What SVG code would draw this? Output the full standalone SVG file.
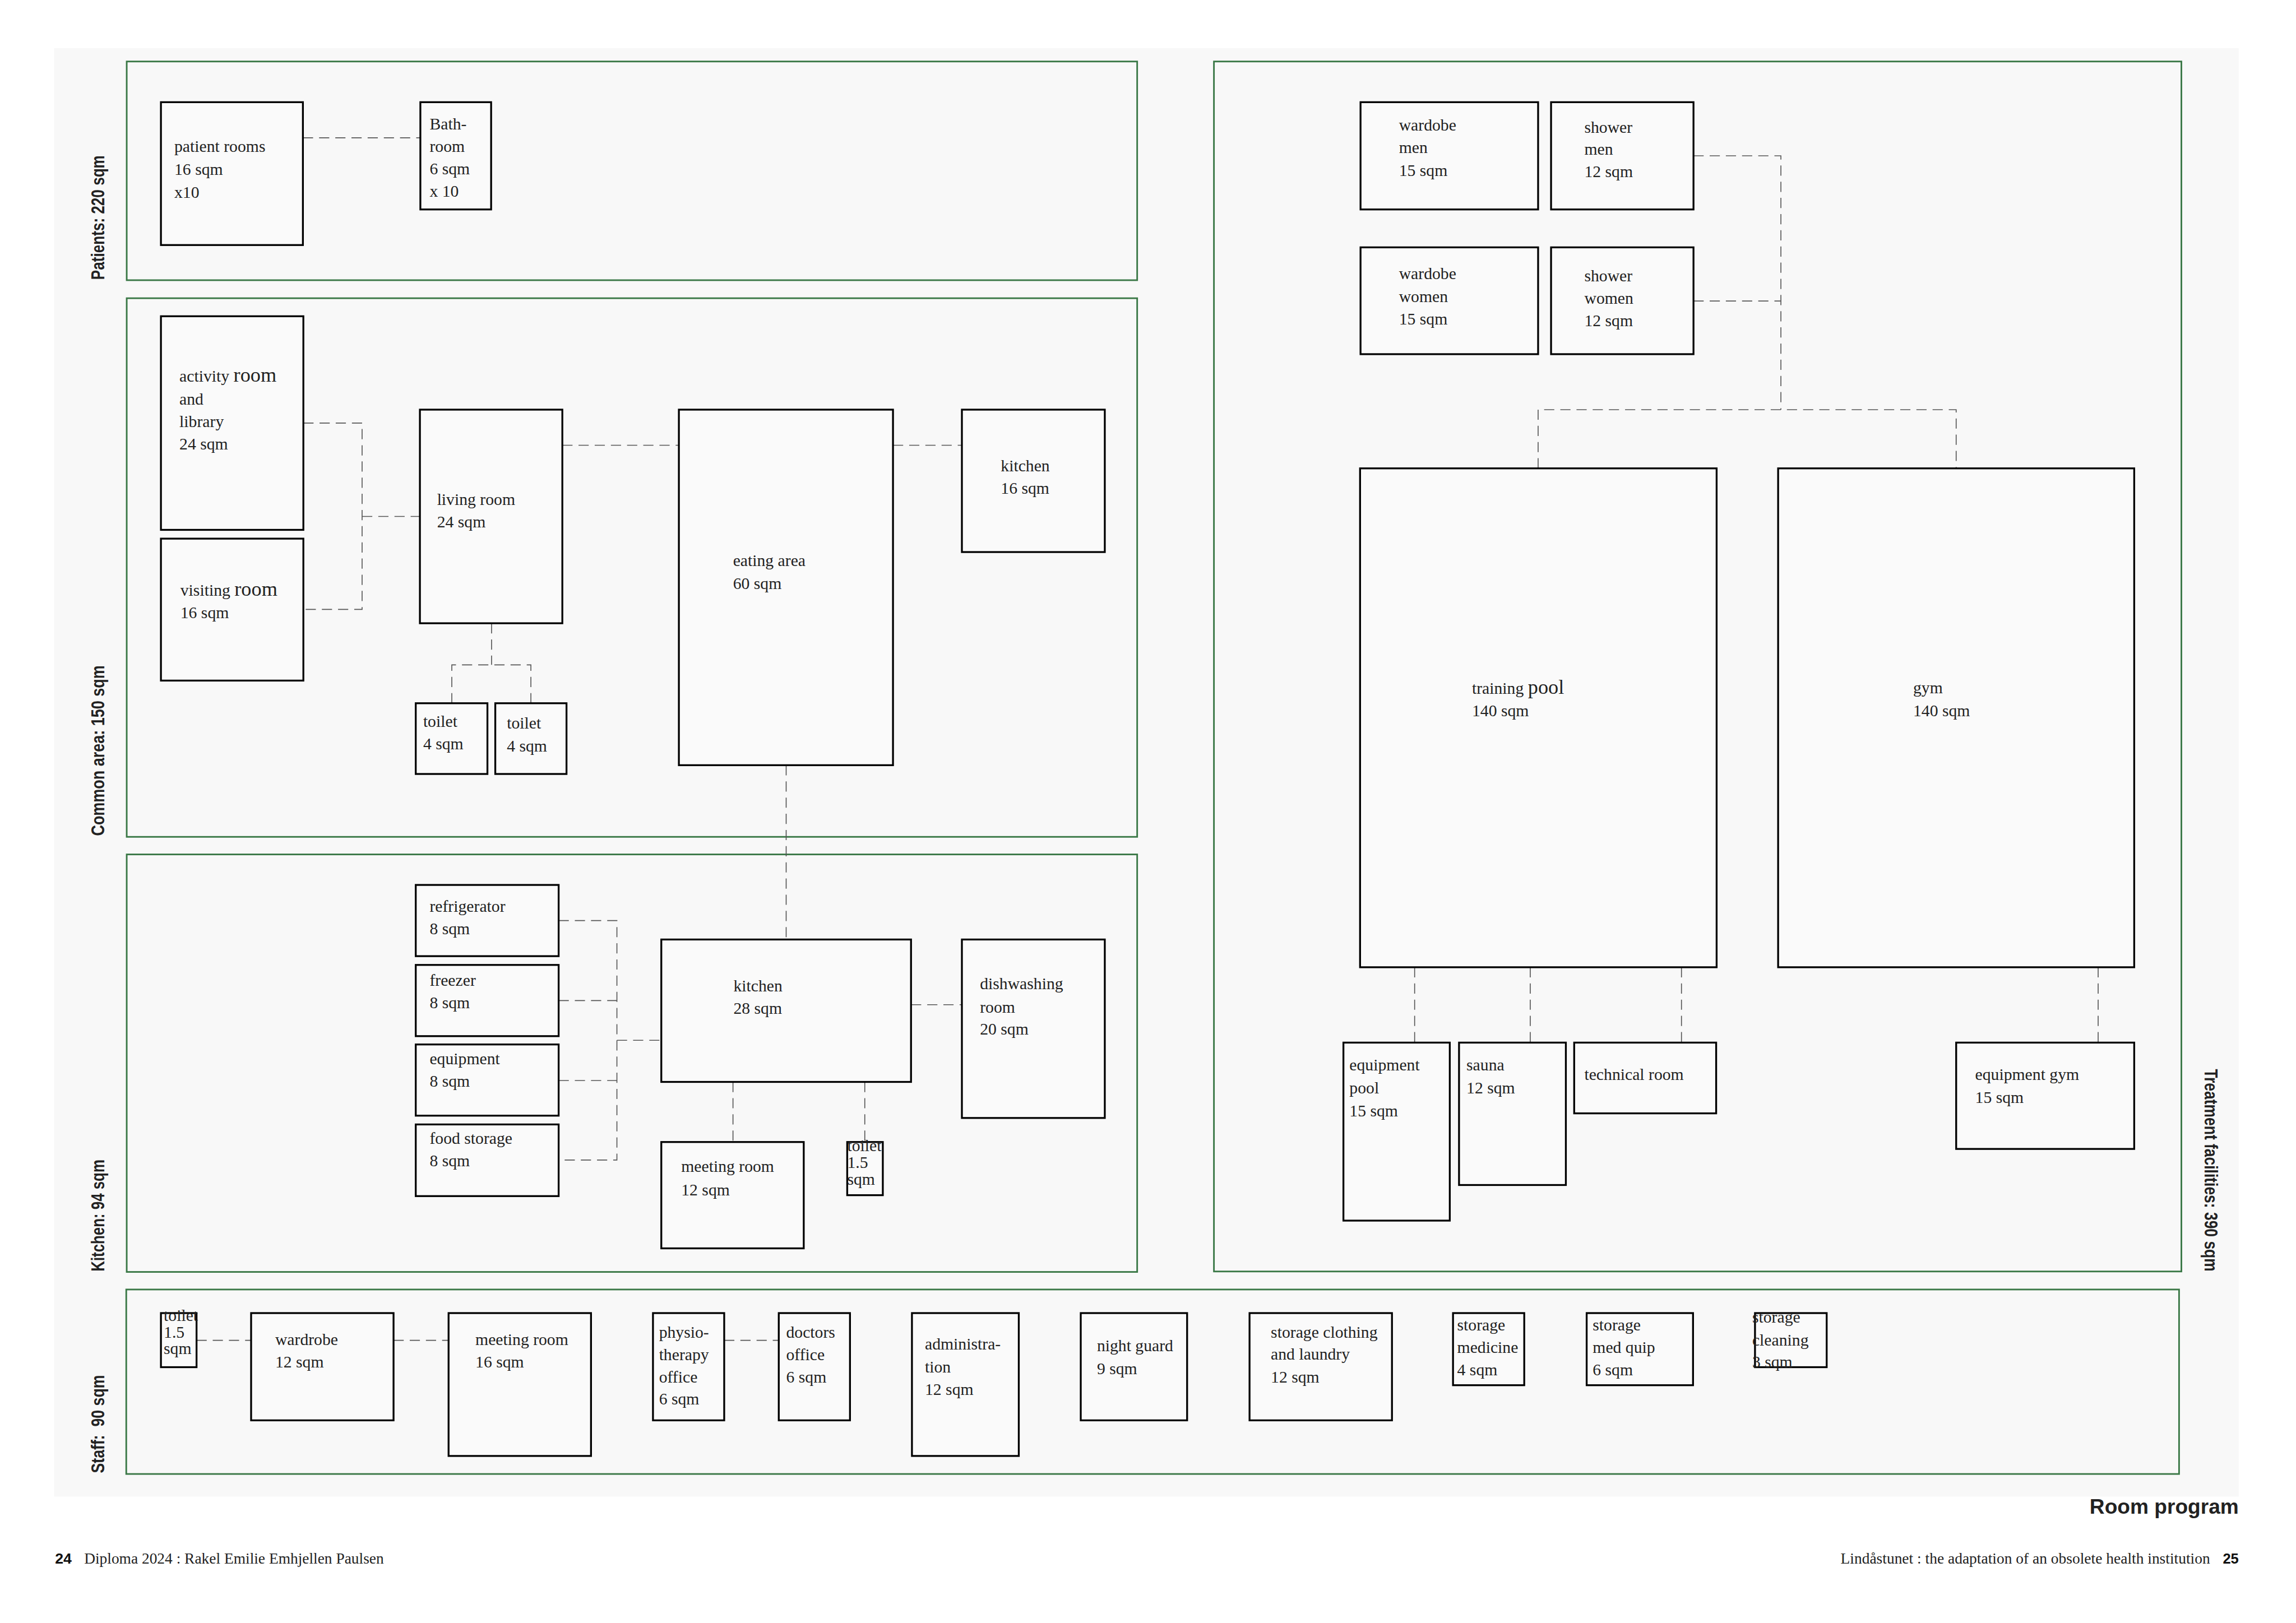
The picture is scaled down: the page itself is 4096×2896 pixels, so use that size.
<svg xmlns="http://www.w3.org/2000/svg" width="4096" height="2896" viewBox="0 0 4096 2896">
<style>
.zone{fill:#f8f8f8;stroke:#3a7846;stroke-width:3.5}
.room rect{fill:#fafafa;stroke:#000;stroke-width:4}
.t{font-family:"Liberation Serif","Times New Roman",serif;font-size:36px;fill:#222}
.big{font-size:44px}
.conn path{fill:none;stroke:#555;stroke-width:2;stroke-dasharray:22 13}
.lbl{font-family:"Liberation Sans",Arial,sans-serif;font-weight:bold;font-size:40px;fill:#222}
.foot{font-family:"Liberation Serif","Times New Roman",serif;font-size:32px;fill:#222}
.num{font-family:"Liberation Sans",Arial,sans-serif;font-weight:bold;font-size:31px;fill:#111}
.title{font-family:"Liberation Sans",Arial,sans-serif;font-weight:bold;font-size:45px;fill:#222}
</style>
<rect x="0" y="0" width="4096" height="2896" fill="#ffffff"/>
<g transform="scale(0.825)">
<rect x="117" y="104" width="4724" height="3133" fill="#f8f8f8"/>

<g id="zones">
<rect id="zone-patients" class="zone" x="274" y="133" width="2185" height="473"/>
<rect id="zone-common" class="zone" x="274" y="645" width="2185" height="1165"/>
<rect id="zone-kitchen" class="zone" x="274" y="1848" width="2185" height="903"/>
<rect id="zone-treatment" class="zone" x="2625" y="133" width="2092" height="2617"/>
<rect id="zone-staff" class="zone" x="273" y="2789" width="4439" height="399"/>
</g>

<g id="zone-labels">
<text class="lbl" transform="translate(226,605) rotate(-90)" textLength="269" lengthAdjust="spacingAndGlyphs">Patients: 220 sqm</text>
<text class="lbl" transform="translate(226,1808) rotate(-90)" textLength="369" lengthAdjust="spacingAndGlyphs">Common area: 150 sqm</text>
<text class="lbl" transform="translate(226,2750) rotate(-90)" textLength="242" lengthAdjust="spacingAndGlyphs">Kitchen: 94 sqm</text>
<text class="lbl" transform="translate(226,3186) rotate(-90)" textLength="212" lengthAdjust="spacingAndGlyphs" xml:space="preserve">Staff:  90 sqm</text>
<text class="lbl" transform="translate(4767,2312) rotate(90)" textLength="438" lengthAdjust="spacingAndGlyphs">Treatment facilities: 390 sqm</text>
</g>

<g id="connectors" class="conn">
<path d="M655,298 H909"/>
<path d="M656,915 H783 V1318 H656"/>
<path d="M783,1117 H908"/>
<path d="M1216,963 H1468"/>
<path d="M1931,963 H2080"/>
<path d="M1063,1348 V1438"/>
<path d="M977,1521 V1438 H1148 V1521"/>
<path d="M1700,1655 V2032"/>
<path d="M1208,1991 H1334 V2509 H1208"/>
<path d="M1208,2164 H1334"/>
<path d="M1208,2337 H1334"/>
<path d="M1334,2250 H1430"/>
<path d="M1970,2173 H2080"/>
<path d="M1585,2340 V2470"/>
<path d="M1870,2340 V2470"/>
<path d="M3662,337 H3851 V886"/>
<path d="M3662,651 H3851"/>
<path d="M3326,1013 V886 H4230 V1013"/>
<path d="M3059,2092 V2255"/>
<path d="M3309,2092 V2255"/>
<path d="M3636,2092 V2255"/>
<path d="M4537,2092 V2255"/>
<path d="M425,2899 H543"/>
<path d="M851,2899 H970"/>
<path d="M1566,2899 H1684"/>
</g>

<g id="patient-rooms" class="room"><rect x="348" y="221" width="307" height="309"/>
<text class="t"><tspan x="377" y="328">patient rooms</tspan><tspan x="377" y="378">16 sqm</tspan><tspan x="377" y="428">x10</tspan></text></g>
<g id="bathroom" class="room"><rect x="909" y="221" width="153" height="232"/>
<text class="t"><tspan x="929" y="280">Bath-</tspan><tspan x="929" y="328">room</tspan><tspan x="929" y="377">6 sqm</tspan><tspan x="929" y="426">x 10</tspan></text></g>

<g id="activity-room" class="room"><rect x="348" y="684" width="308" height="462"/>
<text class="t"><tspan x="388" y="825">activity <tspan class="big">room</tspan></tspan><tspan x="388" y="875">and</tspan><tspan x="388" y="924">library</tspan><tspan x="388" y="972">24 sqm</tspan></text></g>
<g id="visiting-room" class="room"><rect x="348" y="1165" width="308" height="307"/>
<text class="t"><tspan x="390" y="1288">visiting <tspan class="big">room</tspan></tspan><tspan x="390" y="1337">16 sqm</tspan></text></g>
<g id="living-room" class="room"><rect x="908" y="886" width="308" height="462"/>
<text class="t"><tspan x="945" y="1092">living room</tspan><tspan x="945" y="1141">24 sqm</tspan></text></g>
<g id="toilet-common-1" class="room"><rect x="899" y="1521" width="155" height="153"/>
<text class="t"><tspan x="915" y="1572">toilet</tspan><tspan x="915" y="1620">4 sqm</tspan></text></g>
<g id="toilet-common-2" class="room"><rect x="1071" y="1521" width="154" height="153"/>
<text class="t"><tspan x="1096" y="1576">toilet</tspan><tspan x="1096" y="1625">4 sqm</tspan></text></g>
<g id="eating-area" class="room"><rect x="1468" y="886" width="463" height="769"/>
<text class="t"><tspan x="1585" y="1224">eating area</tspan><tspan x="1585" y="1274">60 sqm</tspan></text></g>
<g id="kitchen-16" class="room"><rect x="2080" y="886" width="309" height="308"/>
<text class="t"><tspan x="2164" y="1019">kitchen</tspan><tspan x="2164" y="1068">16 sqm</tspan></text></g>

<g id="refrigerator" class="room"><rect x="899" y="1914" width="309" height="154"/>
<text class="t"><tspan x="929" y="1972">refrigerator</tspan><tspan x="929" y="2020">8 sqm</tspan></text></g>
<g id="freezer" class="room"><rect x="899" y="2087" width="309" height="154"/>
<text class="t"><tspan x="929" y="2132">freezer</tspan><tspan x="929" y="2181">8 sqm</tspan></text></g>
<g id="equipment-kitchen" class="room"><rect x="899" y="2259" width="309" height="154"/>
<text class="t"><tspan x="929" y="2302">equipment</tspan><tspan x="929" y="2350">8 sqm</tspan></text></g>
<g id="food-storage" class="room"><rect x="899" y="2432" width="309" height="155"/>
<text class="t"><tspan x="929" y="2474">food storage</tspan><tspan x="929" y="2523">8 sqm</tspan></text></g>
<g id="kitchen-28" class="room"><rect x="1430" y="2032" width="540" height="308"/>
<text class="t"><tspan x="1586" y="2144">kitchen</tspan><tspan x="1586" y="2193">28 sqm</tspan></text></g>
<g id="dishwashing" class="room"><rect x="2080" y="2032" width="309" height="386"/>
<text class="t"><tspan x="2119" y="2139">dishwashing</tspan><tspan x="2119" y="2190">room</tspan><tspan x="2119" y="2237">20 sqm</tspan></text></g>
<g id="meeting-kitchen" class="room"><rect x="1430" y="2470" width="308" height="230"/>
<text class="t"><tspan x="1473" y="2535">meeting room</tspan><tspan x="1473" y="2585">12 sqm</tspan></text></g>
<g id="toilet-kitchen" class="room"><rect x="1832" y="2470" width="77" height="115"/>
<text class="t"><tspan x="1832" y="2490">toilet</tspan><tspan x="1832" y="2526">1.5</tspan><tspan x="1832" y="2562">sqm</tspan></text></g>

<g id="wardobe-men" class="room"><rect x="2942" y="221" width="384" height="232"/>
<text class="t"><tspan x="3025" y="283">wardobe</tspan><tspan x="3025" y="331">men</tspan><tspan x="3025" y="380">15 sqm</tspan></text></g>
<g id="shower-men" class="room"><rect x="3354" y="221" width="308" height="232"/>
<text class="t"><tspan x="3426" y="287">shower</tspan><tspan x="3426" y="335">men</tspan><tspan x="3426" y="383">12 sqm</tspan></text></g>
<g id="wardobe-women" class="room"><rect x="2942" y="535" width="384" height="231"/>
<text class="t"><tspan x="3025" y="604">wardobe</tspan><tspan x="3025" y="653">women</tspan><tspan x="3025" y="702">15 sqm</tspan></text></g>
<g id="shower-women" class="room"><rect x="3354" y="535" width="308" height="231"/>
<text class="t"><tspan x="3426" y="608">shower</tspan><tspan x="3426" y="657">women</tspan><tspan x="3426" y="706">12 sqm</tspan></text></g>
<g id="training-pool" class="room"><rect x="2941" y="1013" width="771" height="1079"/>
<text class="t"><tspan x="3183" y="1501">training <tspan class="big">pool</tspan></tspan><tspan x="3183" y="1549">140 sqm</tspan></text></g>
<g id="gym" class="room"><rect x="3845" y="1013" width="770" height="1079"/>
<text class="t"><tspan x="4137" y="1499">gym</tspan><tspan x="4137" y="1549">140 sqm</tspan></text></g>
<g id="equipment-pool" class="room"><rect x="2905" y="2255" width="230" height="385"/>
<text class="t"><tspan x="2918" y="2315">equipment</tspan><tspan x="2918" y="2365">pool</tspan><tspan x="2918" y="2414">15 sqm</tspan></text></g>
<g id="sauna" class="room"><rect x="3155" y="2255" width="231" height="308"/>
<text class="t"><tspan x="3171" y="2315">sauna</tspan><tspan x="3171" y="2365">12 sqm</tspan></text></g>
<g id="technical-room" class="room"><rect x="3404" y="2255" width="307" height="153"/>
<text class="t"><tspan x="3426" y="2336">technical room</tspan></text></g>
<g id="equipment-gym" class="room"><rect x="4230" y="2255" width="385" height="230"/>
<text class="t"><tspan x="4271" y="2336">equipment gym</tspan><tspan x="4271" y="2385">15 sqm</tspan></text></g>

<g id="toilet-staff" class="room"><rect x="348" y="2840" width="77" height="117"/>
<text class="t"><tspan x="354" y="2857">toilet</tspan><tspan x="354" y="2893">1.5</tspan><tspan x="354" y="2929">sqm</tspan></text></g>
<g id="wardrobe-staff" class="room"><rect x="543" y="2840" width="308" height="232"/>
<text class="t"><tspan x="595" y="2909">wardrobe</tspan><tspan x="595" y="2958">12 sqm</tspan></text></g>
<g id="meeting-staff" class="room"><rect x="970" y="2840" width="308" height="309"/>
<text class="t"><tspan x="1028" y="2909">meeting room</tspan><tspan x="1028" y="2958">16 sqm</tspan></text></g>
<g id="physio-office" class="room"><rect x="1412" y="2840" width="154" height="232"/>
<text class="t"><tspan x="1425" y="2893">physio-</tspan><tspan x="1425" y="2942">therapy</tspan><tspan x="1425" y="2990">office</tspan><tspan x="1425" y="3038">6 sqm</tspan></text></g>
<g id="doctors-office" class="room"><rect x="1684" y="2840" width="154" height="232"/>
<text class="t"><tspan x="1700" y="2893">doctors</tspan><tspan x="1700" y="2942">office</tspan><tspan x="1700" y="2990">6 sqm</tspan></text></g>
<g id="administration" class="room"><rect x="1972" y="2840" width="231" height="309"/>
<text class="t"><tspan x="2000" y="2919">administra-</tspan><tspan x="2000" y="2968">tion</tspan><tspan x="2000" y="3017">12 sqm</tspan></text></g>
<g id="night-guard" class="room"><rect x="2337" y="2840" width="230" height="232"/>
<text class="t"><tspan x="2372" y="2923">night guard</tspan><tspan x="2372" y="2972">9 sqm</tspan></text></g>
<g id="storage-clothing" class="room"><rect x="2702" y="2840" width="308" height="232"/>
<text class="t"><tspan x="2748" y="2893">storage clothing</tspan><tspan x="2748" y="2941">and laundry</tspan><tspan x="2748" y="2990">12 sqm</tspan></text></g>
<g id="storage-medicine" class="room"><rect x="3142" y="2840" width="154" height="156"/>
<text class="t"><tspan x="3151" y="2878">storage</tspan><tspan x="3151" y="2926">medicine</tspan><tspan x="3151" y="2975">4 sqm</tspan></text></g>
<g id="storage-med-quip" class="room"><rect x="3431" y="2840" width="230" height="156"/>
<text class="t"><tspan x="3444" y="2878">storage</tspan><tspan x="3444" y="2926">med quip</tspan><tspan x="3444" y="2975">6 sqm</tspan></text></g>
<g id="storage-cleaning" class="room"><rect x="3795" y="2840" width="155" height="117"/>
<text class="t"><tspan x="3789" y="2861">storage</tspan><tspan x="3789" y="2910">cleaning</tspan><tspan x="3789" y="2957">3 sqm</tspan></text></g>

<g id="footer">
<text class="title" x="4841" y="3274" text-anchor="end">Room program</text>
<text class="num" x="119" y="3382" textLength="36" lengthAdjust="spacingAndGlyphs">24</text>
<text class="foot" x="182" y="3382" textLength="648" lengthAdjust="spacingAndGlyphs">Diploma 2024 : Rakel Emilie Emhjellen Paulsen</text>
<text class="foot" x="3980" y="3382" textLength="799" lengthAdjust="spacingAndGlyphs">Lindåstunet : the adaptation of an obsolete health institution</text>
<text class="num" x="4841" y="3382" text-anchor="end">25</text>
</g>
</g>
</svg>
